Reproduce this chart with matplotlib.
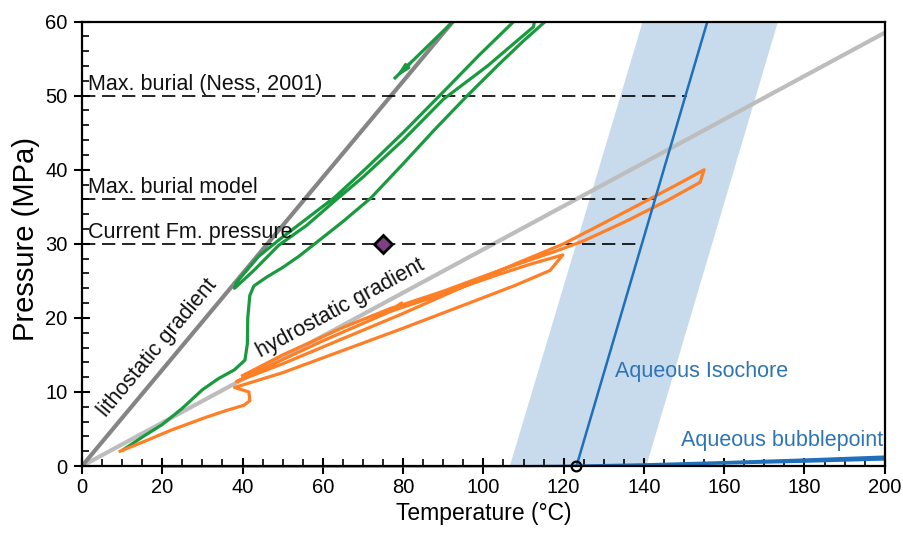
import matplotlib
matplotlib.use("Agg")
import matplotlib.pyplot as plt
from matplotlib.ticker import MultipleLocator

plt.rcParams['font.family'] = ['Liberation Sans', 'DejaVu Sans']

# ---- data -------------------------------------------------------------
# reference gradients (temperature °C, pressure MPa)
litho_T = [0, 92.4]
litho_P = [0, 60]
hydro_T = [0, 200]
hydro_P = [0, 58.5]

# aqueous isochore and its uncertainty band
iso_T = [123.2, 155.8]
iso_P = [0, 60]
band_T = [106.6, 140.6, 173.4, 139.7]
band_P = [0, 0, 60, 60]

# aqueous bubblepoint curve (drawn as a thin wedge)
bub_T = [20, 60, 100, 120, 140, 160, 180, 200]
bub_lo = [-0.15, -0.15, -0.12, -0.08, 0.05, 0.25, 0.5, 0.8]
bub_hi = [0.12, 0.12, 0.15, 0.25, 0.45, 0.75, 1.1, 1.5]

# pressure reference levels and where they meet the isochore
level_P = [50, 36, 30]
level_T_end = [150.7, 143.3, 139.5]
level_names = ["Max. burial (Ness, 2001)", "Max. burial model", "Current Fm. pressure"]

# present-day fluid inclusion state
point_T = [75]
point_P = [30]

# burial path 1 (green)
green_T = [10.3, 15, 20, 25, 30, 34, 38, 40.6, 41.2, 41.3, 41.8, 42.8, 46, 50, 54, 58, 65, 72, 80, 88, 96,
           104, 110, 116, 117,
           113, 112.5, 101, 90, 80, 70, 63, 56, 49, 43, 38,
           38.5, 44, 49, 56, 63, 71, 80, 90, 99, 108.5]
green_P = [2.2, 3.9, 5.6, 7.8, 10.3, 11.8, 13.0, 14.3, 16.5, 20.0, 23.0, 24.3, 25.5, 26.8, 28.3, 30.0, 33.0,
           36.2, 40.8, 45.5, 50.0, 54.3, 57.4, 60.3, 61,
           61, 59.3, 54.0, 49.5, 44.0, 39.0, 35.8, 32.5, 29.8, 26.5, 24.0,
           24.8, 28.3, 30.5, 33.4, 36.3, 40.3, 45.0, 50.5, 55.5, 60.5]
green_arrow_T = [92.8, 78.0]
green_arrow_P = [60.2, 52.4]

# burial path 2 (orange)
orange_T = [9.5, 15, 22, 31, 36, 40.3, 41.8, 41.6, 38.0,
            50, 65, 80, 95, 108, 116.6, 119.8,
            112, 104, 96, 88, 77, 60, 45, 38.5,
            50, 65, 80, 95, 108, 120, 130, 142, 150, 155,
            154, 146, 135, 125, 118, 105, 90, 80, 77, 65, 50, 40]
orange_P = [2.0, 3.2, 4.8, 6.6, 7.5, 8.2, 8.8, 10.0, 10.6,
            12.6, 15.6, 18.6, 21.7, 24.4, 26.4, 28.5,
            27.3, 25.9, 24.4, 22.9, 20.9, 16.9, 13.1, 11.4,
            13.8, 17.2, 20.6, 24.2, 27.3, 30.0, 32.8, 36.2, 38.5, 40.0,
            38.3, 35.9, 32.9, 30.4, 29.0, 26.6, 23.6, 21.8, 21.3, 18.7, 15.0, 12.2]
orange_arrow_idx = 42

# ---- colours ----------------------------------------------------------
c_litho = '#858585'
c_hydro = '#bdbdbd'
c_blue = '#1f6fba'
c_text_blue = '#2e74b5'
c_band = '#c8dbed'
c_green = '#1a9a3f'
c_orange = '#ff7f27'

fig = plt.figure(figsize=(9.04, 5.4), dpi=100)
ax = fig.add_axes([0.0907, 0.137, 0.888, 0.823])
ax.set_xlim(0, 200)
ax.set_ylim(0, 60)

# isochore band
ax.fill(band_T, band_P, color=c_band, lw=0, zorder=1)

# gradients
ax.plot(hydro_T, hydro_P, color=c_hydro, lw=3.0, zorder=2, solid_capstyle='butt')
ax.plot(litho_T, litho_P, color=c_litho, lw=3.0, zorder=2.1, solid_capstyle='butt')

# pressure levels
for p, t_end in zip(level_P, level_T_end):
    ax.plot([0, t_end], [p, p], color='black', lw=1.2, dashes=(8, 4), zorder=2.2)
for p, name in zip(level_P, level_names):
    ax.text(1.6, p + 0.8, name, fontsize=15.5, va='baseline', ha='left', color='#111111', zorder=5)

# paths
ax.plot(green_T, green_P, color=c_green, lw=2.3, zorder=3, solid_joinstyle='round')
ax.plot(green_arrow_T, green_arrow_P, color=c_green, lw=2.3, zorder=3)
ax.annotate('', xy=(green_arrow_T[1], green_arrow_P[1]),
            xytext=(green_arrow_T[1] + (green_arrow_T[0] - green_arrow_T[1]) * 0.25,
                    green_arrow_P[1] + (green_arrow_P[0] - green_arrow_P[1]) * 0.25),
            arrowprops=dict(arrowstyle='-|>,head_length=0.7,head_width=0.16', color=c_green, lw=2.3,
                            shrinkA=0, shrinkB=0),
            zorder=3)

ax.plot(orange_T, orange_P, color=c_orange, lw=2.3, zorder=3.1, solid_joinstyle='round')
i = orange_arrow_idx
ax.annotate('', xy=(orange_T[i], orange_P[i]), xytext=(orange_T[i - 1], orange_P[i - 1]),
            arrowprops=dict(arrowstyle='-|>,head_length=0.45,head_width=0.14', color=c_orange, lw=2.3,
                            shrinkA=0, shrinkB=0),
            zorder=3.1)

# isochore line
ax.plot(iso_T, iso_P, color=c_blue, lw=1.8, zorder=3.5)

# bubblepoint wedge
ax.fill_between(bub_T, bub_lo, bub_hi, color=c_blue, lw=0, zorder=2.4, clip_on=False)
ax.plot([iso_T[0]], [iso_P[0]], marker='o', ms=7, mfc='none', mec='black', mew=1.6,
        zorder=6, clip_on=False)

# present-day point
ax.plot(point_T, point_P, marker='D', ms=9.5, mfc='#7e3f86', mec='black', mew=2.0, zorder=6)

# labels on the plot
ax.text(18.9, 15.9, 'lithostatic gradient', rotation=50, rotation_mode='anchor',
        ha='center', va='center', fontsize=15.5, color='#111111', zorder=5)
ax.text(64.5, 21.3, 'hydrostatic gradient', rotation=28.3, rotation_mode='anchor',
        ha='center', va='center', fontsize=15.5, color='#111111', zorder=5)
ax.text(132.8, 12.7, 'Aqueous Isochore', ha='left', va='center', fontsize=15.5, color=c_text_blue, zorder=5)
ax.text(199.5, 3.4, 'Aqueous bubblepoint', ha='right', va='center', fontsize=15.5, color=c_text_blue, zorder=5)

# axes styling
ax.set_xlabel('Temperature (°C)', fontsize=16.5, labelpad=4)
ax.set_ylabel('Pressure (MPa)', fontsize=21)
ax.yaxis.set_label_coords(-0.052, 0.51)
ax.xaxis.set_major_locator(MultipleLocator(20))
ax.xaxis.set_minor_locator(MultipleLocator(5))
ax.yaxis.set_major_locator(MultipleLocator(10))
ax.yaxis.set_minor_locator(MultipleLocator(2))
ax.tick_params(axis='both', which='major', direction='inout', length=11, width=1.5,
               labelsize=14.5, pad=3)
ax.tick_params(axis='y', which='major', pad=5)
ax.tick_params(axis='both', which='minor', direction='in', length=5, width=1.2)
for s in ax.spines.values():
    s.set_linewidth(1.6)
    s.set_zorder(4)

fig.savefig('out.png', dpi=100)
